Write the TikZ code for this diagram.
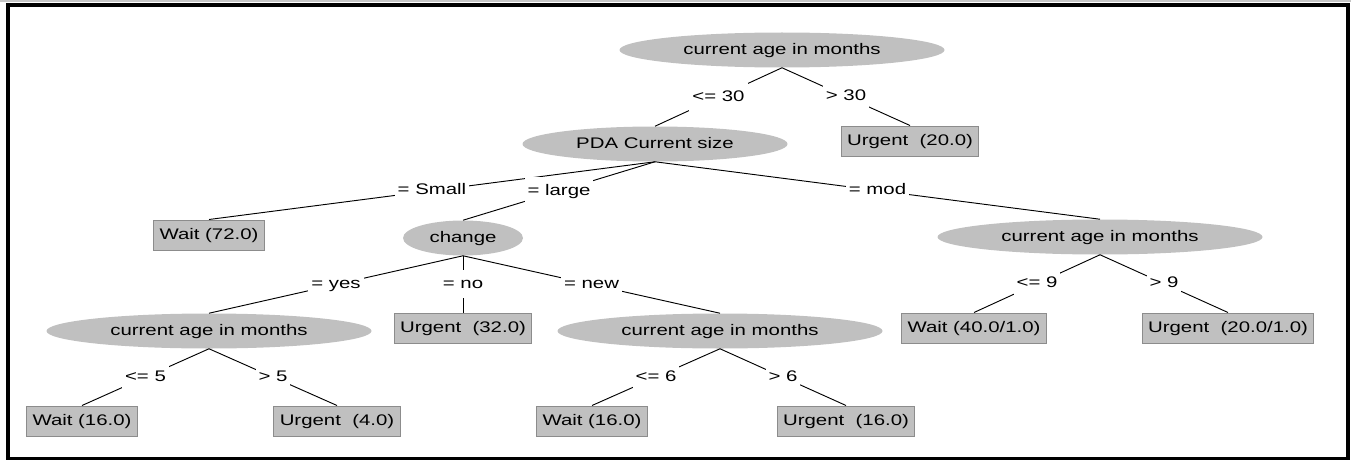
\documentclass[tikz,border=0pt]{standalone}
\usepackage{fontspec}
\setmainfont[FakeStretch=1.33]{Liberation Sans}
\usepackage{tikz}
\usetikzlibrary{shapes,positioning}

\definecolor{nodefill}{RGB}{192,192,192}
\definecolor{leafline}{RGB}{140,140,140}

\begin{document}
\begin{tikzpicture}[
  x=0.75pt, y=-0.75pt,
  treenode/.style={font=\fontsize{11.5}{13}\selectfont, text height=8.3pt, text depth=2.2pt},
  split/.style={treenode, ellipse, fill=nodefill, inner sep=0pt, minimum height=26.25pt, minimum width=243.75pt},
  leaf/.style={treenode, rectangle, fill=nodefill, draw=leafline, line width=0.75pt, inner xsep=4.5pt, inner ysep=0pt, minimum height=22.5pt},
  branch/.style={treenode, fill=white, inner xsep=2.25pt, inner ysep=0pt, minimum height=21pt},
  link/.style={draw, line width=0.7pt}
]
\useasboundingbox (0,0) rectangle (1351,460);
\fill[gray!45] (0,0) rectangle (1351,2.5);
\draw[line width=2.6pt] (8,5) rectangle (1348,458.5);

\node[split] (root) at (782,50) {current age in months};
\node[split, minimum width=198.75pt] (pda) at (655,144) {PDA Current size};
\node[leaf] (urg20) at (910,141) {Urgent\ \ (20.0)};
\node[leaf] (wait72) at (209,235) {Wait (72.0)};
\node[split, minimum width=90pt] (change) at (463,238) {change};
\node[split] (age9) at (1100,237) {current age in months};
\node[split] (age5) at (209,331) {current age in months};
\node[leaf] (urg32) at (463,328) {Urgent\ \ (32.0)};
\node[split] (age6) at (720,331) {current age in months};
\node[leaf] (wait40) at (974,328) {Wait (40.0/1.0)};
\node[leaf] (urg201) at (1228,328) {Urgent\ \ (20.0/1.0)};
\node[leaf] (wait16a) at (82,421) {Wait (16.0)};
\node[leaf] (urg4) at (337,421) {Urgent\ \ (4.0)};
\node[leaf] (wait16b) at (592,421) {Wait (16.0)};
\node[leaf] (urg16) at (846,421) {Urgent\ \ (16.0)};

\draw[link] (root.south) -- node[branch] {<= 30} (pda.north);
\draw[link] (root.south) -- node[branch] {> 30} (urg20.north);
\draw[link] (pda.south) -- node[branch] {= Small} (wait72.north);
\draw[link] (pda.south) -- node[branch] {= large} (change.north);
\draw[link] (pda.south) -- node[branch] {= mod} (age9.north);
\draw[link] (change.south) -- node[branch] {= yes} (age5.north);
\draw[link] (change.south) -- node[branch] {= no} (urg32.north);
\draw[link] (change.south) -- node[branch] {= new} (age6.north);
\draw[link] (age9.south) -- node[branch] {<= 9} (wait40.north);
\draw[link] (age9.south) -- node[branch] {> 9} (urg201.north);
\draw[link] (age5.south) -- node[branch] {<= 5} (wait16a.north);
\draw[link] (age5.south) -- node[branch] {> 5} (urg4.north);
\draw[link] (age6.south) -- node[branch] {<= 6} (wait16b.north);
\draw[link] (age6.south) -- node[branch] {> 6} (urg16.north);
\end{tikzpicture}
\end{document}
